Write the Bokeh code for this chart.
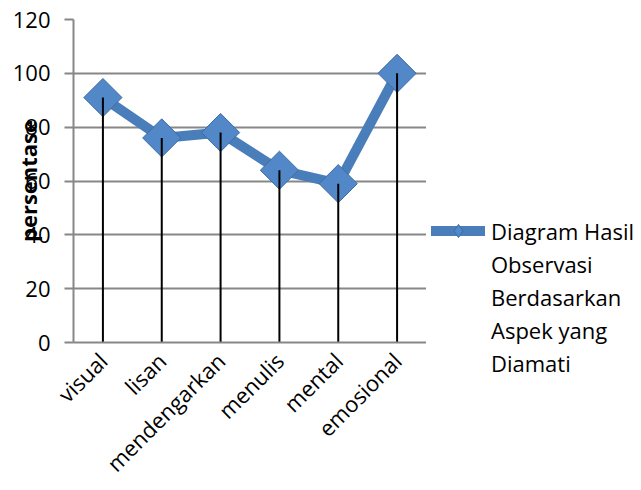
import math
from bokeh.plotting import figure
from bokeh.layouts import row
from bokeh.models import FactorRange, Range1d, FixedTicker, Legend, LegendItem
from bokeh.embed import file_html
from bokeh.resources import INLINE

categories = ["visual", "lisan", "mendengarkan", "menulis", "mental", "emosional"]
values = [91, 76, 78, 64, 59, 100]
y_ticks = [0, 20, 40, 60, 80, 100, 120]
legend_lines = ["Diagram Hasil", "Observasi", "Berdasarkan", "Aspek yang", "Diamati"]
y_title = "persentase"

FONT = "Open Sans"
BLUE = "#4A7EBB"
GRID = "#878787"
MARK_FILL = "#5288C8"
MARK_LINE = "#3D6CA6"

p = figure(width=426, height=490, x_range=FactorRange(*categories, range_padding=0),
           y_range=Range1d(0, 120), output_backend="svg", toolbar_location=None,
           min_border_left=73, min_border_right=0, min_border_top=19, min_border_bottom=147)
p.outline_line_color = None
p.background_fill_color = "white"

# axes
p.yaxis.ticker = FixedTicker(ticks=y_ticks)
p.xaxis.axis_line_color = GRID
p.yaxis.axis_line_color = GRID
p.xaxis.axis_line_width = 2
p.yaxis.axis_line_width = 2
p.xaxis.major_tick_line_color = None
p.yaxis.major_tick_line_color = GRID
p.yaxis.major_tick_line_width = 2
p.xaxis.major_tick_in = 0
p.xaxis.major_tick_out = 0
p.yaxis.major_tick_in = 0
p.yaxis.minor_tick_line_color = None
p.xaxis.major_label_text_font = FONT
p.yaxis.major_label_text_font = FONT
p.xaxis.major_label_text_font_size = "22px"
p.yaxis.major_label_text_font_size = "22px"
p.xaxis.major_label_text_color = "black"
p.yaxis.major_label_text_color = "black"
p.yaxis.major_tick_out = 9
p.yaxis.major_label_standoff = 14
p.xaxis.major_label_orientation = math.pi / 4
p.xaxis.major_label_standoff = 14

p.yaxis.axis_label = y_title
p.yaxis.axis_label_text_font = FONT
p.yaxis.axis_label_text_font_size = "22px"
p.yaxis.axis_label_text_font_style = "bold"
p.yaxis.axis_label_text_color = "black"
p.yaxis.axis_label_standoff = -33

p.xgrid.grid_line_color = None
p.ygrid.grid_line_color = GRID
p.ygrid.grid_line_width = 2

p.line(x=categories, y=values, line_color=BLUE, line_width=10,
       line_join="round", line_cap="round")
p.scatter(x=categories, y=values, marker="square", angle=math.pi / 4, size=27,
          fill_color=MARK_FILL, line_color=MARK_LINE, line_width=1)
p.segment(x0=categories, y0=[0] * len(values), x1=categories, y1=values,
          line_color="black", line_width=2)

# legend panel (separate figure; legend sits in its left side panel, which is not clipped)
lg = figure(width=215, height=490, x_range=Range1d(0, 1), y_range=Range1d(0, 1),
            output_backend="svg", toolbar_location=None,
            min_border_left=0, min_border_right=0, min_border_top=0, min_border_bottom=0)
lg.axis.visible = False
lg.grid.visible = False
lg.outline_line_color = None

# one off-range point each, so the legend draws their glyphs
off = dict(x=[-10, -11], y=[-10, -11])
lg_line = lg.line(x=off["x"], y=off["y"], line_color=BLUE, line_width=10, line_cap="round")
lg_mark = lg.scatter(x=off["x"], y=off["y"], marker="diamond", size=22,
                     fill_color=MARK_FILL, line_color=MARK_LINE, line_width=1)
blank_rs = [lg.line(x=off["x"], y=off["y"], line_alpha=0) for _ in legend_lines[1:]]

items = [LegendItem(label=legend_lines[0], renderers=[lg_line, lg_mark])]
items += [LegendItem(label=t, renderers=[r]) for t, r in zip(legend_lines[1:], blank_rs)]

legend = Legend(items=items, location=(5, -37), glyph_width=54, glyph_height=33,
                label_height=20, spacing=0,
                label_text_font=FONT, label_text_font_size="22px",
                label_text_color="black",
                background_fill_alpha=0, border_line_color=None,
                padding=0, margin=0, label_standoff=6)
lg.add_layout(legend, "left")

layout = row(p, lg)
open("out.html", "w").write(file_html(layout, INLINE))
